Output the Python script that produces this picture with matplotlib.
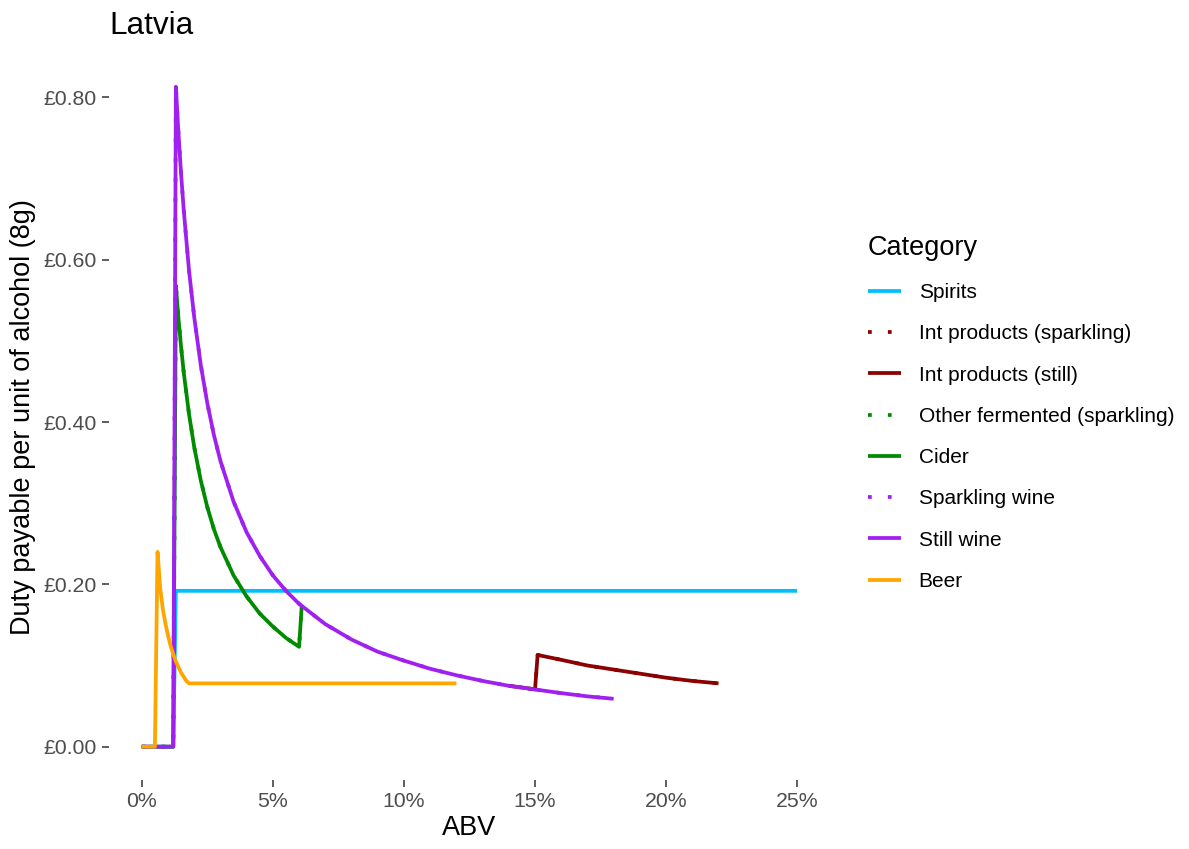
import matplotlib
matplotlib.use("Agg")
import matplotlib.pyplot as plt

plt.rcParams["font.family"] = ["Liberation Sans", "DejaVu Sans"]

# ABV in percent, duty in GBP per unit (10ml / 8g alcohol)
spirits_abv = [0, 1.2, 1.3, 25]
spirits_duty = [0, 0, 0.192, 0.192]

int_abv = [14.0, 14.5, 15.0, 15.1, 16, 17, 18, 19, 20, 21, 22]
int_duty = [0.075, 0.073, 0.0705, 0.113, 0.107, 0.100, 0.095, 0.090, 0.085, 0.081, 0.078]

cider_abv = [0, 1.2, 1.3, 1.4, 1.5, 1.6, 1.8, 2.0, 2.25, 2.5, 2.75, 3.0, 3.5, 4.0,
             4.5, 5.0, 5.5, 6.0, 6.1]
cider_duty = [0, 0, 0.568, 0.527, 0.492, 0.461, 0.410, 0.369, 0.328, 0.295, 0.268,
              0.246, 0.211, 0.185, 0.164, 0.148, 0.134, 0.123, 0.173]

wine_abv = [0, 1.2, 1.3, 1.4, 1.5, 1.6, 1.8, 2.0, 2.25, 2.5, 2.75, 3.0, 3.5, 4.0,
            4.5, 5.0, 5.5, 6.0, 7, 8, 9, 10, 11, 12, 13, 14, 15, 16, 17, 18]
wine_duty = [0, 0, 0.813, 0.755, 0.705, 0.661, 0.587, 0.529, 0.470, 0.423, 0.384,
             0.352, 0.302, 0.264, 0.235, 0.211, 0.192, 0.176, 0.151, 0.132, 0.117,
             0.106, 0.096, 0.088, 0.081, 0.075, 0.0705, 0.066, 0.062, 0.059]

beer_abv = [0, 0.5, 0.6, 0.7, 0.8, 0.9, 1.0, 1.1, 1.2, 1.3, 1.4, 1.5, 1.6, 1.7, 1.8, 12]
beer_duty = [0, 0, 0.240, 0.196, 0.170, 0.152, 0.137, 0.124, 0.114, 0.105, 0.098,
             0.091, 0.086, 0.081, 0.078, 0.078]

x_ticks = [0, 5, 10, 15, 20, 25]
y_ticks = [0, 0.2, 0.4, 0.6, 0.8]

fig = plt.figure(figsize=(11.89, 8.49), dpi=100)
ax = fig.add_axes([0.0917, 0.0816, 0.6063, 0.8554])

lw = 2.7
dot = (0, (1, 4.3))
kw = dict(solid_joinstyle="round", solid_capstyle="butt")
ax.plot(spirits_abv, spirits_duty, color="#00BFFF", lw=lw, label="Spirits", **kw)
ax.plot(int_abv, int_duty, color="#8B0000", lw=lw, ls=dot, label="Int products (sparkling)")
ax.plot(int_abv, int_duty, color="#8B0000", lw=lw, label="Int products (still)", **kw)
ax.plot(cider_abv, cider_duty, color="#008B00", lw=lw, ls=dot, label="Other fermented (sparkling)")
ax.plot(cider_abv, cider_duty, color="#008B00", lw=lw, label="Cider", **kw)
ax.plot(wine_abv, wine_duty, color="#A020F0", lw=lw, ls=dot, label="Sparkling wine")
ax.plot(wine_abv, wine_duty, color="#A020F0", lw=lw, label="Still wine", **kw)
ax.plot(beer_abv, beer_duty, color="#FFA500", lw=lw, label="Beer", **kw)

ax.set_xlim(-1.25, 26.25)
ax.set_ylim(-0.0407, 0.854)
ax.set_xticks(x_ticks)
ax.set_xticklabels([f"{v}%" for v in x_ticks])
ax.set_yticks(y_ticks)
ax.set_yticklabels([f"£{v:.2f}" for v in y_ticks])
for s in ax.spines.values():
    s.set_visible(False)
ax.tick_params(colors="#333333", labelcolor="#4D4D4D", labelsize=15.3, length=5, width=1.1, pad=4)

ax.set_xlabel("ABV", fontsize=19.5, labelpad=3)
ax.set_ylabel("Duty payable per unit of alcohol (8g)", fontsize=19.5, labelpad=5)
ax.set_title("Latvia", fontsize=22.7, loc="left", pad=13.7, x=0.0)

leg = fig.legend(loc="upper left", bbox_to_anchor=(0.730, 0.7235), frameon=False,
                 title="Category", fontsize=15, title_fontsize=19.5,
                 handlelength=1.58, handletextpad=0.85, labelspacing=1.07,
                 borderaxespad=0, borderpad=0)
leg._legend_box.align = "left"

fig.savefig("out.png", dpi=100)
